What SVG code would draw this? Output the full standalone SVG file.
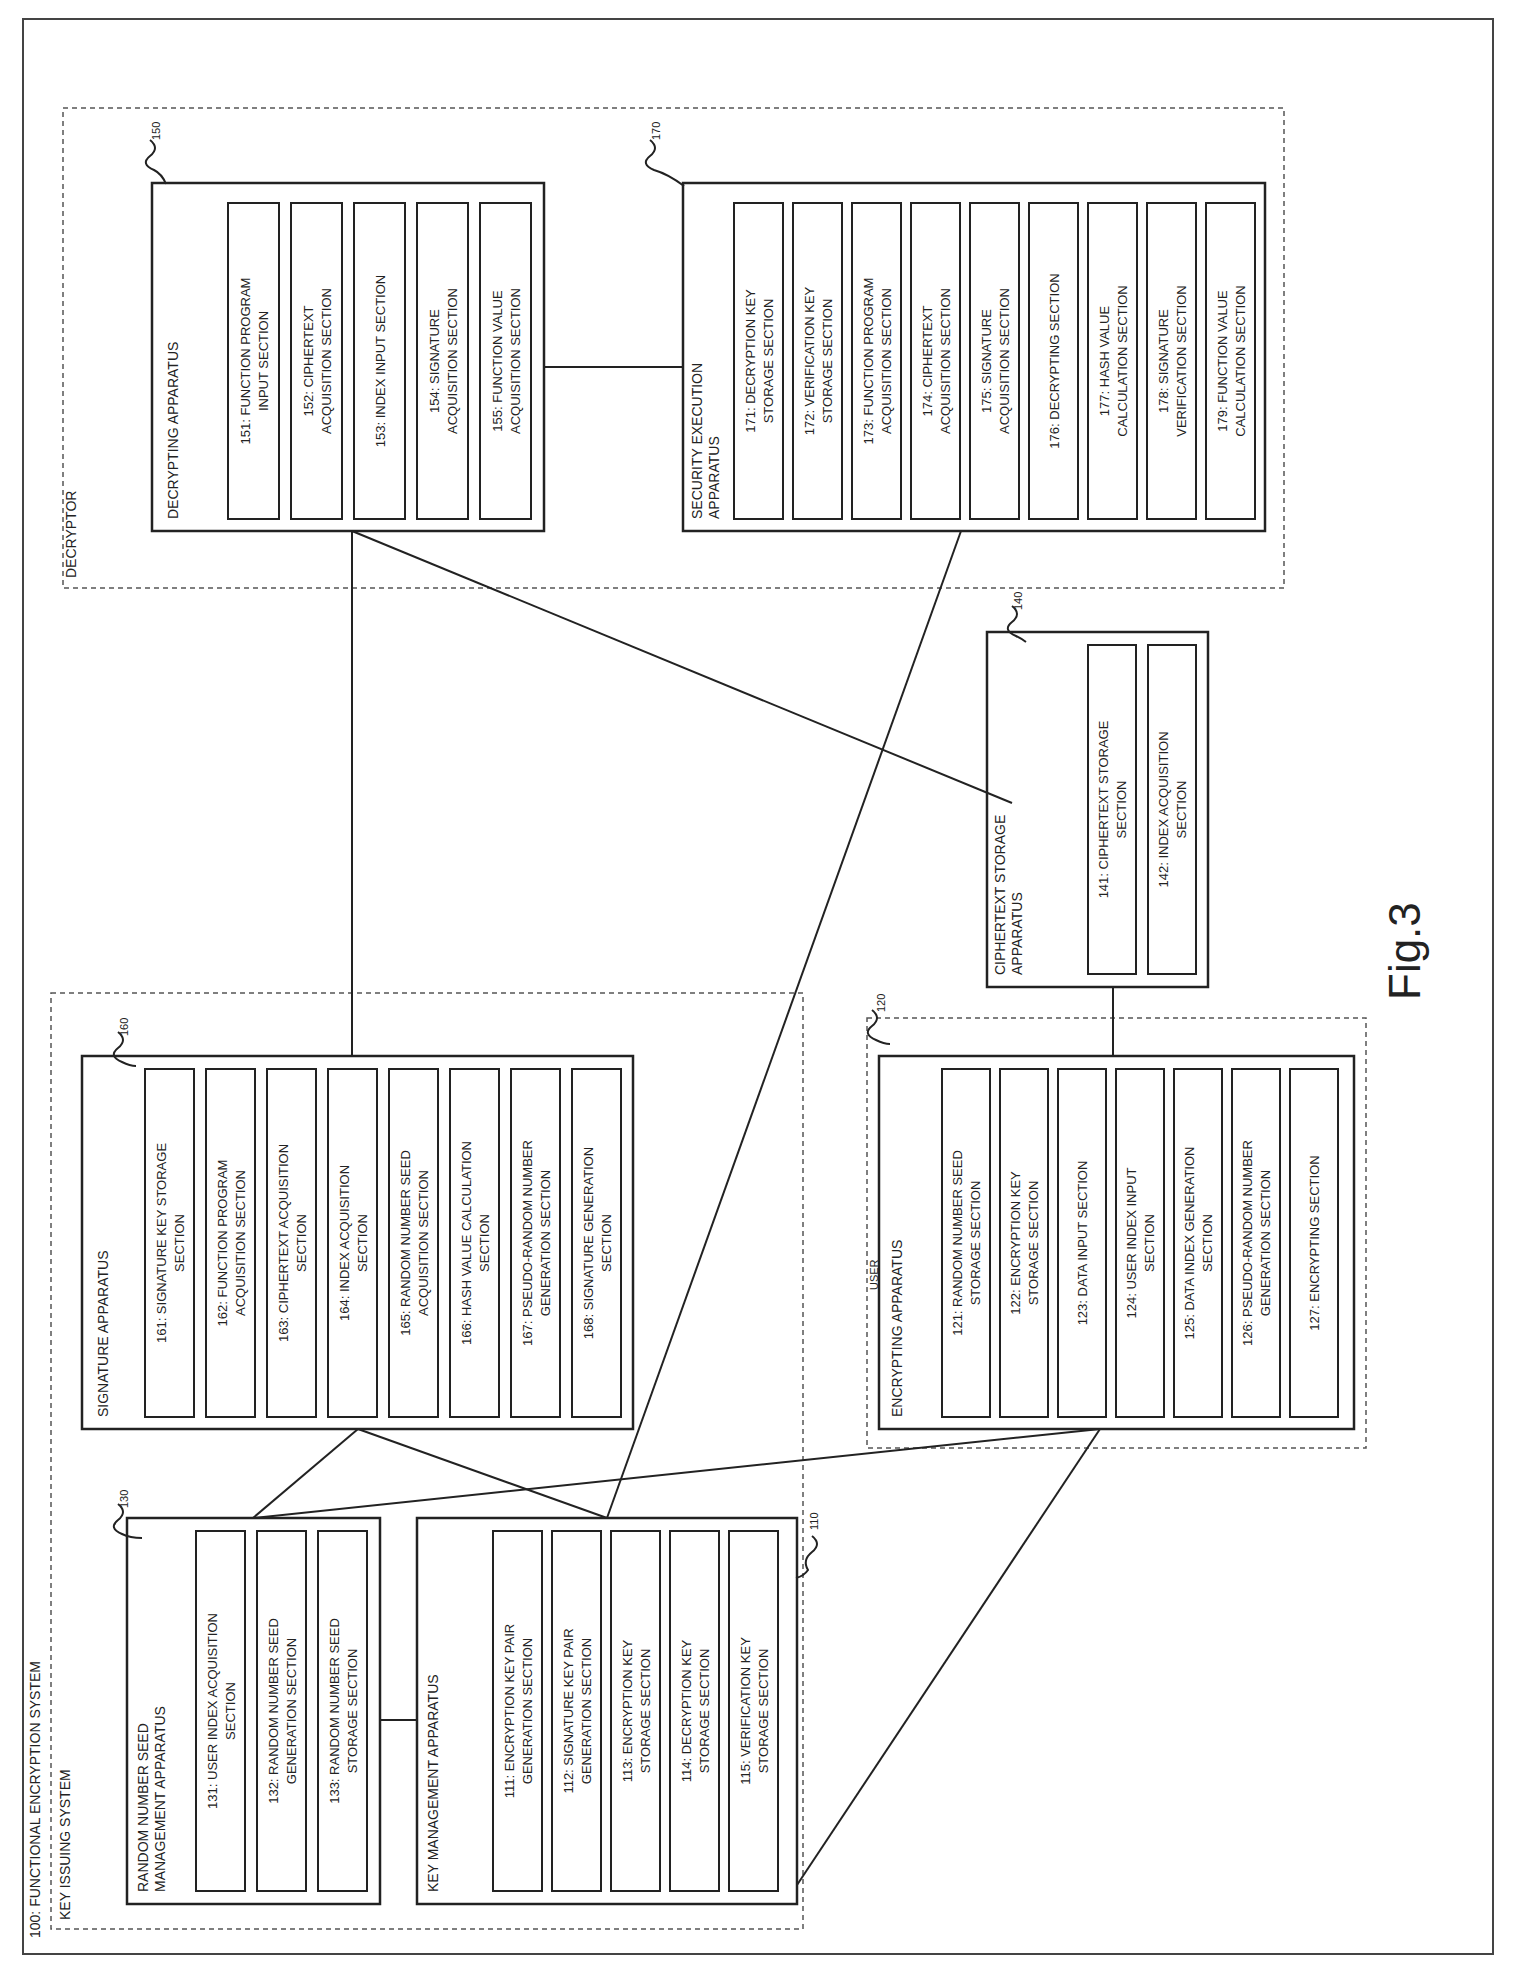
<svg xmlns="http://www.w3.org/2000/svg" width="1518" height="1983" viewBox="0 0 1518 1983">
<style>
.b{fill:none;stroke:#222;stroke-width:2.5}
.s{fill:none;stroke:#222;stroke-width:2}
.d{fill:none;stroke:#555;stroke-width:1.5;stroke-dasharray:5 4}
.c{fill:none;stroke:#222;stroke-width:2}
text{font-family:"Liberation Sans",Arial,sans-serif;font-size:13px;fill:#222}
.m{text-anchor:middle}
.h{font-size:14px}
.r{font-size:11px}
</style>
<rect width="1518" height="1983" fill="#fff"/>
<rect x="23" y="19" width="1470" height="1935" fill="none" stroke="#444" stroke-width="2"/>
<text class="h" transform="translate(40,1938) rotate(-90)">100: FUNCTIONAL ENCRYPTION SYSTEM</text>
<g id="key-issuing"><rect class="d" x="51" y="993" width="752" height="936"/><text class="h" transform="translate(70,1920) rotate(-90)">KEY ISSUING SYSTEM</text></g>
<g id="decryptor"><rect class="d" x="63" y="108" width="1221" height="480"/><text class="h" transform="translate(76,578) rotate(-90)">DECRYPTOR</text></g>
<g id="user"><rect class="d" x="867" y="1018" width="499" height="430"/><text class="r" transform="translate(878,1290) rotate(-90)">USER</text></g>
<g id="connectors">
<line class="c" x1="352" y1="531" x2="352" y2="1056"/>
<line class="c" x1="352" y1="531" x2="1012" y2="803"/>
<line class="c" x1="961" y1="531" x2="607" y2="1518"/>
<line class="c" x1="544" y1="367" x2="683" y2="367"/>
<line class="c" x1="358" y1="1429" x2="253" y2="1518"/>
<line class="c" x1="358" y1="1429" x2="607" y2="1518"/>
<line class="c" x1="253" y1="1518" x2="1100" y2="1429"/>
<line class="c" x1="1100" y1="1429" x2="797" y2="1885"/>
<line class="c" x1="380" y1="1720" x2="417" y2="1720"/>
<line class="c" x1="1113" y1="987" x2="1113" y2="1056"/>
</g>
<g id="n150">
<rect class="b" x="152" y="183" width="392" height="348"/>
<text class="h" transform="translate(178,519) rotate(-90)">DECRYPTING APPARATUS</text>
<rect class="s" x="228" y="203" width="51" height="316"/><text class="m" transform="translate(253.5,361) rotate(-90)"><tspan x="0" dy="-4">151: FUNCTION PROGRAM</tspan><tspan x="0" dy="18">INPUT SECTION</tspan></text>
<rect class="s" x="291" y="203" width="51" height="316"/><text class="m" transform="translate(316.5,361) rotate(-90)"><tspan x="0" dy="-4">152: CIPHERTEXT</tspan><tspan x="0" dy="18">ACQUISITION SECTION</tspan></text>
<rect class="s" x="354" y="203" width="51" height="316"/><text class="m" transform="translate(379.5,361) rotate(-90)"><tspan x="0" dy="5">153: INDEX INPUT SECTION</tspan></text>
<rect class="s" x="417" y="203" width="51" height="316"/><text class="m" transform="translate(442.5,361) rotate(-90)"><tspan x="0" dy="-4">154: SIGNATURE</tspan><tspan x="0" dy="18">ACQUISITION SECTION</tspan></text>
<rect class="s" x="480" y="203" width="51" height="316"/><text class="m" transform="translate(505.5,361) rotate(-90)"><tspan x="0" dy="-4">155: FUNCTION VALUE</tspan><tspan x="0" dy="18">ACQUISITION SECTION</tspan></text>
<text class="r" transform="translate(160,140) rotate(-90)">150</text><path class="s" stroke-width="1" d="M150 140 q10 8 0 16 q-10 8 4 14 q8 4 12 14"/>
</g>
<g id="n170">
<rect class="b" x="683" y="183" width="582" height="348"/>
<text class="h" transform="translate(702,519) rotate(-90)"><tspan x="0">SECURITY EXECUTION</tspan><tspan x="0" dy="17">APPARATUS</tspan></text>
<rect class="s" x="734" y="203" width="49" height="316"/><text class="m" transform="translate(758.5,361) rotate(-90)"><tspan x="0" dy="-4">171: DECRYPTION KEY</tspan><tspan x="0" dy="18">STORAGE SECTION</tspan></text>
<rect class="s" x="793" y="203" width="49" height="316"/><text class="m" transform="translate(817.5,361) rotate(-90)"><tspan x="0" dy="-4">172: VERIFICATION KEY</tspan><tspan x="0" dy="18">STORAGE SECTION</tspan></text>
<rect class="s" x="852" y="203" width="49" height="316"/><text class="m" transform="translate(876.5,361) rotate(-90)"><tspan x="0" dy="-4">173: FUNCTION PROGRAM</tspan><tspan x="0" dy="18">ACQUISITION SECTION</tspan></text>
<rect class="s" x="911" y="203" width="49" height="316"/><text class="m" transform="translate(935.5,361) rotate(-90)"><tspan x="0" dy="-4">174: CIPHERTEXT</tspan><tspan x="0" dy="18">ACQUISITION SECTION</tspan></text>
<rect class="s" x="970" y="203" width="49" height="316"/><text class="m" transform="translate(994.5,361) rotate(-90)"><tspan x="0" dy="-4">175: SIGNATURE</tspan><tspan x="0" dy="18">ACQUISITION SECTION</tspan></text>
<rect class="s" x="1029" y="203" width="49" height="316"/><text class="m" transform="translate(1053.5,361) rotate(-90)"><tspan x="0" dy="5">176: DECRYPTING SECTION</tspan></text>
<rect class="s" x="1088" y="203" width="49" height="316"/><text class="m" transform="translate(1112.5,361) rotate(-90)"><tspan x="0" dy="-4">177: HASH VALUE</tspan><tspan x="0" dy="18">CALCULATION SECTION</tspan></text>
<rect class="s" x="1147" y="203" width="49" height="316"/><text class="m" transform="translate(1171.5,361) rotate(-90)"><tspan x="0" dy="-4">178: SIGNATURE</tspan><tspan x="0" dy="18">VERIFICATION SECTION</tspan></text>
<rect class="s" x="1206" y="203" width="49" height="316"/><text class="m" transform="translate(1230.5,361) rotate(-90)"><tspan x="0" dy="-4">179: FUNCTION VALUE</tspan><tspan x="0" dy="18">CALCULATION SECTION</tspan></text>
<text class="r" transform="translate(660,140) rotate(-90)">170</text><path class="s" stroke-width="1" d="M650 140 q10 8 0 16 q-10 8 4 14 q14 4 30 16"/>
</g>
<g id="n140">
<rect class="b" x="987" y="632" width="221" height="355"/>
<text class="h" transform="translate(1005,975) rotate(-90)"><tspan x="0">CIPHERTEXT STORAGE</tspan><tspan x="0" dy="17">APPARATUS</tspan></text>
<rect class="s" x="1088" y="645" width="48" height="329"/><text class="m" transform="translate(1112,809.5) rotate(-90)"><tspan x="0" dy="-4">141: CIPHERTEXT STORAGE</tspan><tspan x="0" dy="18">SECTION</tspan></text>
<rect class="s" x="1148" y="645" width="48" height="329"/><text class="m" transform="translate(1172,809.5) rotate(-90)"><tspan x="0" dy="-4">142: INDEX ACQUISITION</tspan><tspan x="0" dy="18">SECTION</tspan></text>
<text class="r" transform="translate(1022,610) rotate(-90)">140</text><path class="s" stroke-width="1" d="M1012 606 q10 8 0 16 q-10 8 4 14 q6 3 10 6"/>
</g>
<g id="n160">
<rect class="b" x="82" y="1056" width="551" height="373"/>
<text class="h" transform="translate(108,1417) rotate(-90)">SIGNATURE APPARATUS</text>
<rect class="s" x="145" y="1069" width="49" height="348"/><text class="m" transform="translate(169.5,1243) rotate(-90)"><tspan x="0" dy="-4">161: SIGNATURE KEY STORAGE</tspan><tspan x="0" dy="18">SECTION</tspan></text>
<rect class="s" x="206" y="1069" width="49" height="348"/><text class="m" transform="translate(230.5,1243) rotate(-90)"><tspan x="0" dy="-4">162: FUNCTION PROGRAM</tspan><tspan x="0" dy="18">ACQUISITION SECTION</tspan></text>
<rect class="s" x="267" y="1069" width="49" height="348"/><text class="m" transform="translate(291.5,1243) rotate(-90)"><tspan x="0" dy="-4">163: CIPHERTEXT ACQUISITION</tspan><tspan x="0" dy="18">SECTION</tspan></text>
<rect class="s" x="328" y="1069" width="49" height="348"/><text class="m" transform="translate(352.5,1243) rotate(-90)"><tspan x="0" dy="-4">164: INDEX ACQUISITION</tspan><tspan x="0" dy="18">SECTION</tspan></text>
<rect class="s" x="389" y="1069" width="49" height="348"/><text class="m" transform="translate(413.5,1243) rotate(-90)"><tspan x="0" dy="-4">165: RANDOM NUMBER SEED</tspan><tspan x="0" dy="18">ACQUISITION SECTION</tspan></text>
<rect class="s" x="450" y="1069" width="49" height="348"/><text class="m" transform="translate(474.5,1243) rotate(-90)"><tspan x="0" dy="-4">166: HASH VALUE CALCULATION</tspan><tspan x="0" dy="18">SECTION</tspan></text>
<rect class="s" x="511" y="1069" width="49" height="348"/><text class="m" transform="translate(535.5,1243) rotate(-90)"><tspan x="0" dy="-4">167: PSEUDO-RANDOM NUMBER</tspan><tspan x="0" dy="18">GENERATION SECTION</tspan></text>
<rect class="s" x="572" y="1069" width="49" height="348"/><text class="m" transform="translate(596.5,1243) rotate(-90)"><tspan x="0" dy="-4">168: SIGNATURE GENERATION</tspan><tspan x="0" dy="18">SECTION</tspan></text>
<text class="r" transform="translate(128,1036) rotate(-90)">160</text><path class="s" stroke-width="1" d="M118 1032 q10 8 0 16 q-10 8 4 14 q8 4 14 4"/>
</g>
<g id="n120">
<rect class="b" x="879" y="1056" width="475" height="373"/>
<text class="h" transform="translate(902,1417) rotate(-90)">ENCRYPTING APPARATUS</text>
<rect class="s" x="942" y="1069" width="48" height="348"/><text class="m" transform="translate(966,1243) rotate(-90)"><tspan x="0" dy="-4">121: RANDOM NUMBER SEED</tspan><tspan x="0" dy="18">STORAGE SECTION</tspan></text>
<rect class="s" x="1000" y="1069" width="48" height="348"/><text class="m" transform="translate(1024,1243) rotate(-90)"><tspan x="0" dy="-4">122: ENCRYPTION KEY</tspan><tspan x="0" dy="18">STORAGE SECTION</tspan></text>
<rect class="s" x="1058" y="1069" width="48" height="348"/><text class="m" transform="translate(1082,1243) rotate(-90)"><tspan x="0" dy="5">123: DATA INPUT SECTION</tspan></text>
<rect class="s" x="1116" y="1069" width="48" height="348"/><text class="m" transform="translate(1140,1243) rotate(-90)"><tspan x="0" dy="-4">124: USER INDEX INPUT</tspan><tspan x="0" dy="18">SECTION</tspan></text>
<rect class="s" x="1174" y="1069" width="48" height="348"/><text class="m" transform="translate(1198,1243) rotate(-90)"><tspan x="0" dy="-4">125: DATA INDEX GENERATION</tspan><tspan x="0" dy="18">SECTION</tspan></text>
<rect class="s" x="1232" y="1069" width="48" height="348"/><text class="m" transform="translate(1256,1243) rotate(-90)"><tspan x="0" dy="-4">126: PSEUDO-RANDOM NUMBER</tspan><tspan x="0" dy="18">GENERATION SECTION</tspan></text>
<rect class="s" x="1290" y="1069" width="48" height="348"/><text class="m" transform="translate(1314,1243) rotate(-90)"><tspan x="0" dy="5">127: ENCRYPTING SECTION</tspan></text>
<text class="r" transform="translate(885,1012) rotate(-90)">120</text><path class="s" stroke-width="1" d="M872 1010 q10 8 0 16 q-10 8 4 14 q8 4 14 4"/>
</g>
<g id="n130">
<rect class="b" x="127" y="1518" width="253" height="386"/>
<text class="h" transform="translate(148,1892) rotate(-90)"><tspan x="0">RANDOM NUMBER SEED</tspan><tspan x="0" dy="17">MANAGEMENT APPARATUS</tspan></text>
<rect class="s" x="196" y="1531" width="49" height="360"/><text class="m" transform="translate(220.5,1711) rotate(-90)"><tspan x="0" dy="-4">131: USER INDEX ACQUISITION</tspan><tspan x="0" dy="18">SECTION</tspan></text>
<rect class="s" x="257" y="1531" width="49" height="360"/><text class="m" transform="translate(281.5,1711) rotate(-90)"><tspan x="0" dy="-4">132: RANDOM NUMBER SEED</tspan><tspan x="0" dy="18">GENERATION SECTION</tspan></text>
<rect class="s" x="318" y="1531" width="49" height="360"/><text class="m" transform="translate(342.5,1711) rotate(-90)"><tspan x="0" dy="-4">133: RANDOM NUMBER SEED</tspan><tspan x="0" dy="18">STORAGE SECTION</tspan></text>
<text class="r" transform="translate(128,1508) rotate(-90)">130</text><path class="s" stroke-width="1" d="M118 1504 q10 8 0 16 q-10 8 4 14 q8 4 20 4"/>
</g>
<g id="n110">
<rect class="b" x="417" y="1518" width="380" height="386"/>
<text class="h" transform="translate(438,1892) rotate(-90)">KEY MANAGEMENT APPARATUS</text>
<rect class="s" x="493" y="1531" width="49" height="360"/><text class="m" transform="translate(517.5,1711) rotate(-90)"><tspan x="0" dy="-4">111: ENCRYPTION KEY PAIR</tspan><tspan x="0" dy="18">GENERATION SECTION</tspan></text>
<rect class="s" x="552" y="1531" width="49" height="360"/><text class="m" transform="translate(576.5,1711) rotate(-90)"><tspan x="0" dy="-4">112: SIGNATURE KEY PAIR</tspan><tspan x="0" dy="18">GENERATION SECTION</tspan></text>
<rect class="s" x="611" y="1531" width="49" height="360"/><text class="m" transform="translate(635.5,1711) rotate(-90)"><tspan x="0" dy="-4">113: ENCRYPTION KEY</tspan><tspan x="0" dy="18">STORAGE SECTION</tspan></text>
<rect class="s" x="670" y="1531" width="49" height="360"/><text class="m" transform="translate(694.5,1711) rotate(-90)"><tspan x="0" dy="-4">114: DECRYPTION KEY</tspan><tspan x="0" dy="18">STORAGE SECTION</tspan></text>
<rect class="s" x="729" y="1531" width="49" height="360"/><text class="m" transform="translate(753.5,1711) rotate(-90)"><tspan x="0" dy="-4">115: VERIFICATION KEY</tspan><tspan x="0" dy="18">STORAGE SECTION</tspan></text>
<text class="r" transform="translate(818,1530) rotate(-90)">110</text><path class="s" stroke-width="1" d="M812 1536 q10 8 0 16 q-10 8 -4 18 q-4 6 -12 8"/>
</g>
<text transform="translate(1420,1000) rotate(-90)" style="font-size:44px">Fig.3</text>
</svg>
